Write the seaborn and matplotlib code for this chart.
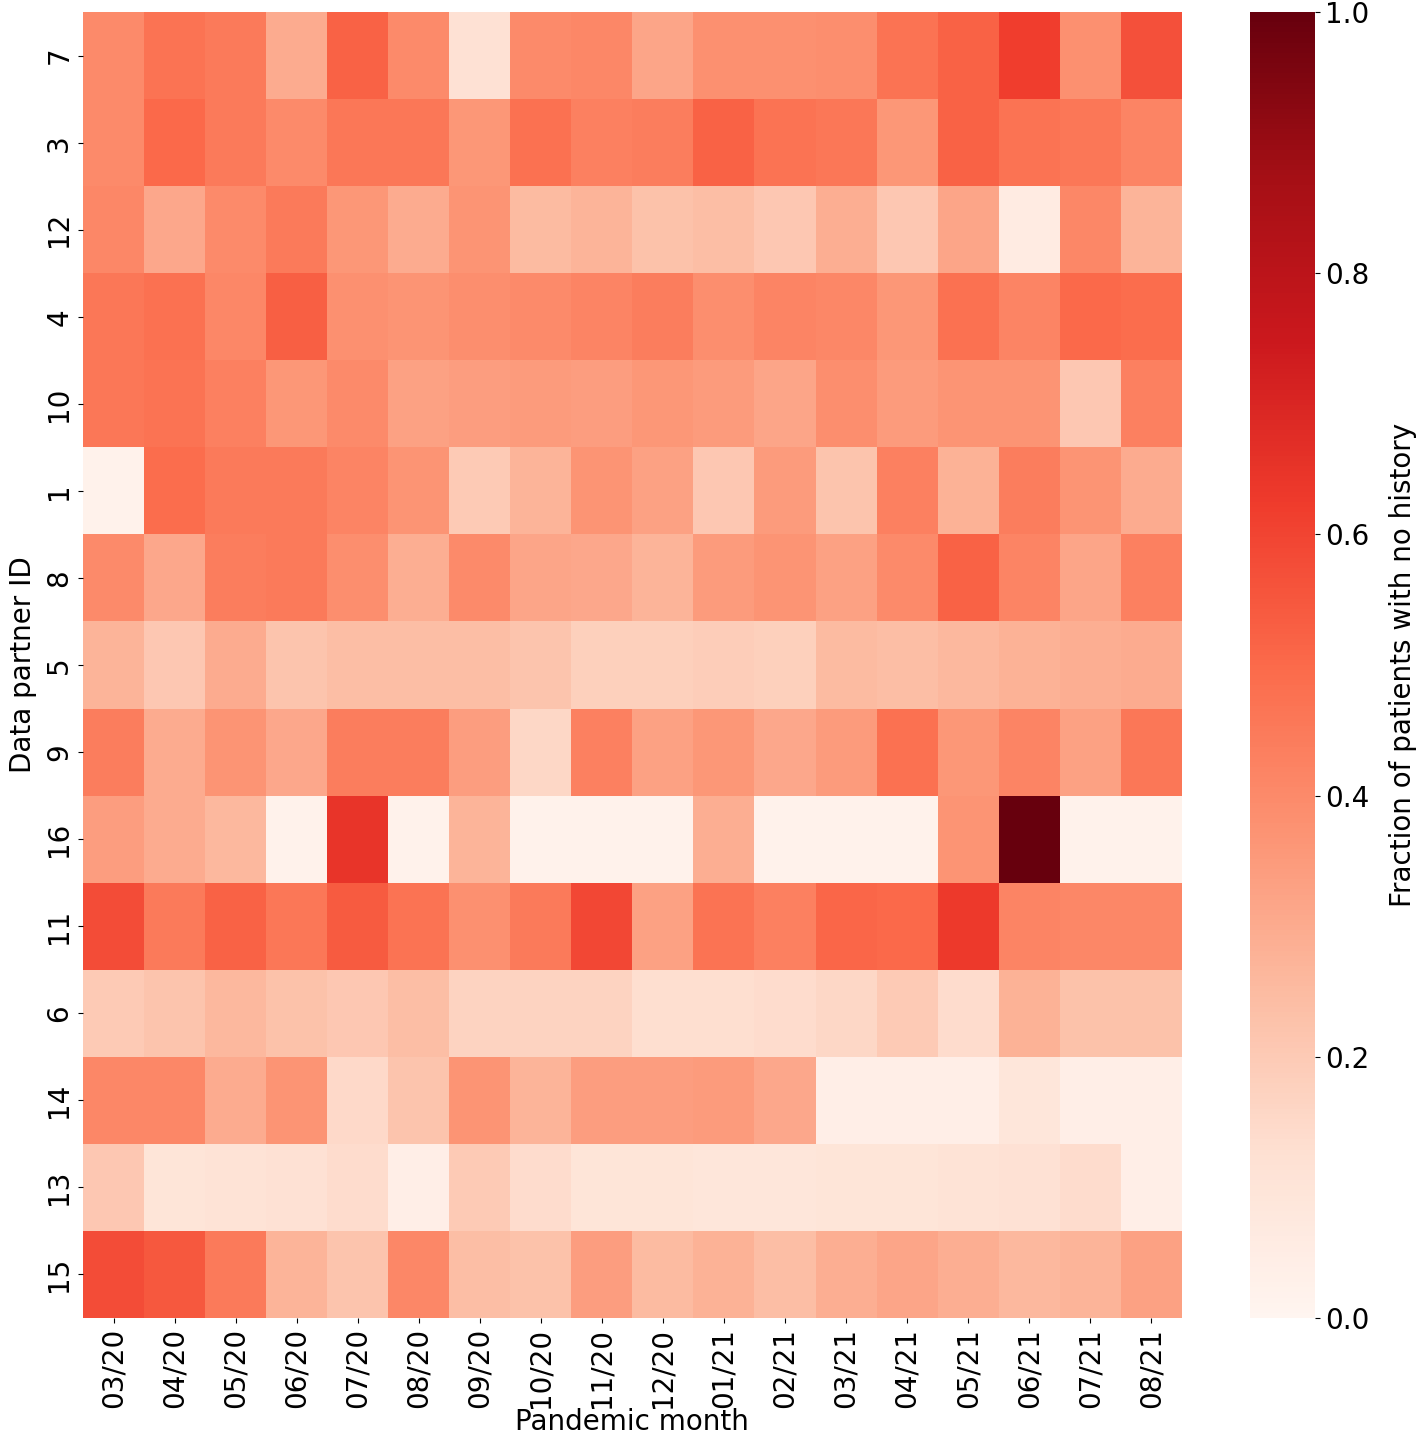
import numpy as np
import pandas as pd
import seaborn as sns
import matplotlib
matplotlib.use("Agg")
import matplotlib.pyplot as plt

# Data partners (rows, top to bottom) and pandemic months (columns)
partners = ["7", "3", "12", "4", "10", "1", "8", "5", "9", "16", "11", "6", "14", "13", "15"]
months = ["03/20", "04/20", "05/20", "06/20", "07/20", "08/20", "09/20", "10/20", "11/20",
          "12/20", "01/21", "02/21", "03/21", "04/21", "05/21", "06/21", "07/21", "08/21"]

# fraction of patients with no history
p7 = [0.40, 0.47, 0.45, 0.30, 0.52, 0.40, 0.12, 0.40, 0.41, 0.32, 0.38, 0.38, 0.39, 0.47, 0.52, 0.62, 0.38, 0.57]
p3 = [0.40, 0.50, 0.45, 0.40, 0.46, 0.46, 0.36, 0.48, 0.43, 0.44, 0.52, 0.47, 0.46, 0.36, 0.52, 0.47, 0.46, 0.42]
p12 = [0.41, 0.31, 0.40, 0.45, 0.36, 0.30, 0.37, 0.25, 0.27, 0.23, 0.24, 0.21, 0.29, 0.21, 0.32, 0.06, 0.41, 0.27]
p4 = [0.46, 0.48, 0.41, 0.53, 0.38, 0.37, 0.39, 0.40, 0.42, 0.44, 0.39, 0.42, 0.41, 0.36, 0.48, 0.42, 0.50, 0.49]
p10 = [0.46, 0.47, 0.43, 0.36, 0.40, 0.33, 0.34, 0.35, 0.34, 0.36, 0.35, 0.32, 0.39, 0.35, 0.37, 0.37, 0.21, 0.43]
p1 = [0.02, 0.49, 0.45, 0.45, 0.42, 0.37, 0.20, 0.27, 0.37, 0.33, 0.21, 0.35, 0.22, 0.43, 0.28, 0.44, 0.37, 0.30]
p8 = [0.40, 0.31, 0.44, 0.45, 0.39, 0.29, 0.40, 0.32, 0.31, 0.27, 0.35, 0.37, 0.33, 0.40, 0.52, 0.42, 0.32, 0.43]
p5 = [0.27, 0.21, 0.30, 0.22, 0.24, 0.24, 0.24, 0.22, 0.18, 0.18, 0.19, 0.18, 0.25, 0.24, 0.26, 0.28, 0.29, 0.30]
p9 = [0.44, 0.30, 0.37, 0.31, 0.44, 0.44, 0.34, 0.16, 0.43, 0.33, 0.36, 0.31, 0.35, 0.48, 0.36, 0.42, 0.33, 0.46]
p16 = [0.34, 0.30, 0.26, 0.02, 0.65, 0.02, 0.27, 0.02, 0.02, 0.02, 0.29, 0.02, 0.02, 0.02, 0.37, 1.00, 0.02, 0.02]
p11 = [0.58, 0.45, 0.52, 0.46, 0.54, 0.47, 0.38, 0.45, 0.59, 0.33, 0.47, 0.43, 0.51, 0.50, 0.63, 0.42, 0.41, 0.41]
p6 = [0.20, 0.22, 0.26, 0.23, 0.21, 0.24, 0.17, 0.17, 0.17, 0.13, 0.13, 0.14, 0.16, 0.20, 0.14, 0.28, 0.23, 0.23]
p14 = [0.41, 0.41, 0.30, 0.37, 0.15, 0.22, 0.37, 0.27, 0.34, 0.34, 0.35, 0.31, 0.04, 0.04, 0.04, 0.09, 0.04, 0.04]
p13 = [0.21, 0.10, 0.11, 0.12, 0.14, 0.04, 0.20, 0.14, 0.10, 0.10, 0.09, 0.09, 0.10, 0.10, 0.11, 0.12, 0.14, 0.04]
p15 = [0.58, 0.55, 0.45, 0.27, 0.22, 0.41, 0.24, 0.23, 0.34, 0.25, 0.28, 0.24, 0.29, 0.32, 0.29, 0.26, 0.27, 0.33]

df = pd.DataFrame([p7, p3, p12, p4, p10, p1, p8, p5, p9, p16, p11, p6, p14, p13, p15],
                  index=partners, columns=months)

plt.rcParams["font.size"] = 20

fig = plt.figure(figsize=(14.16, 14.51), dpi=100)
ax = fig.add_axes([0.0586, 0.0917, 0.776, 0.900])
cax = fig.add_axes([0.8828, 0.0917, 0.046, 0.900])

sns.heatmap(df, ax=ax, cbar_ax=cax, cmap="Reds", vmin=0, vmax=1,
            cbar_kws={"label": "Fraction of patients with no history"})

ax.set_xlabel("Pandemic month", fontsize=20, labelpad=0)
ax.set_ylabel("Data partner ID", fontsize=20, labelpad=6)
ax.tick_params(axis="x", labelrotation=90, labelsize=20)
ax.tick_params(axis="y", labelrotation=90, labelsize=20)
for t in ax.get_yticklabels():
    t.set_va("center")
cax.tick_params(labelsize=20)
cax.set_ylabel("Fraction of patients with no history", fontsize=20, labelpad=14)

fig.savefig("out.png", dpi=100)
